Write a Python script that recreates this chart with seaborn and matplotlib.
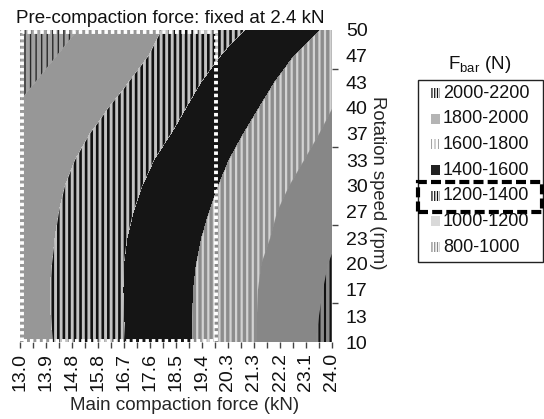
import numpy as np
import matplotlib
matplotlib.use("Agg")
import matplotlib.pyplot as plt
import matplotlib.patches as mpatches
import seaborn as sns

# ---------------- data ----------------
main_force = [13.0, 13.917, 14.833, 15.75, 16.667, 17.583, 18.5,
              19.417, 20.333, 21.25, 22.167, 23.083, 24.0]
main_force_labels = ["13.0", "13.9", "14.8", "15.8", "16.7", "17.6", "18.5",
                     "19.4", "20.3", "21.3", "22.2", "23.1", "24.0"]
speed = [10.0, 13.333, 16.667, 20.0, 23.333, 26.667, 30.0,
         33.333, 36.667, 40.0, 43.333, 46.667, 50.0]
speed_labels = ["10", "13", "17", "20", "23", "27", "30",
                "33", "37", "40", "43", "47", "50"]

# F_bar (N): one row per rotation speed (bottom -> top), one column per main force
fbar_rows = [
    [1108, 1181, 1253, 1325, 1397, 1474, 1550, 1628, 1709, 1791, 1878, 1966, 2054],
    [1115, 1186, 1258, 1329, 1401, 1475, 1551, 1628, 1709, 1791, 1874, 1958, 2042],
    [1118, 1189, 1260, 1332, 1403, 1476, 1549, 1625, 1706, 1788, 1868, 1948, 2028],
    [1111, 1183, 1256, 1328, 1401, 1471, 1542, 1616, 1697, 1778, 1857, 1934, 2012],
    [1103, 1175, 1247, 1319, 1392, 1461, 1531, 1601, 1676, 1753, 1829, 1906, 1982],
    [1095, 1165, 1235, 1305, 1376, 1444, 1512, 1579, 1654, 1731, 1809, 1887, 1964],
    [1083, 1151, 1218, 1286, 1353, 1421, 1488, 1556, 1626, 1700, 1774, 1849, 1923],
    [1061, 1127, 1192, 1258, 1324, 1390, 1459, 1528, 1597, 1667, 1736, 1805, 1875],
    [1055, 1108, 1161, 1218, 1283, 1348, 1414, 1486, 1558, 1629, 1697, 1766, 1834],
    [1013, 1067, 1121, 1175, 1237, 1305, 1374, 1444, 1515, 1586, 1658, 1729, 1799],
    [968, 1023, 1078, 1133, 1187, 1256, 1330, 1403, 1473, 1543, 1614, 1684, 1754],
    [923, 978, 1034, 1090, 1146, 1203, 1276, 1349, 1422, 1492, 1562, 1632, 1703],
    [866, 927, 988, 1049, 1111, 1172, 1234, 1296, 1359, 1424, 1493, 1563, 1632],
]

band_edges = [800, 1000, 1200, 1400, 1600, 1800, 2000, 2200]
band_labels = ["800-1000", "1000-1200", "1200-1400", "1400-1600",
               "1600-1800", "1800-2000", "2000-2200"]

# ---------------- styles ----------------
# chart fills: (face, hatch, hatch colour, hatch linewidth)
chart_style = [
    ("#a2a2a2", "|||", "#2a2a2a", 1.0),   # 800-1000
    ("#979797", None, None, None),        # 1000-1200
    ("#c2c2c2", "|||", "#111111", 1.9),   # 1200-1400
    ("#151515", None, None, None),        # 1400-1600
    ("#8c8c8c", "|||", "#d2d2d2", 1.6),   # 1600-1800
    ("#878787", None, None, None),        # 1800-2000
    ("#8a8a8a", "|||", "#111111", 1.5),   # 2000-2200
]
# legend markers: (face, hatch, hatch colour, hatch linewidth)
legend_style = [
    ("white", "||||||", "#8c8c8c", 0.9),  # 800-1000
    ("#d9d9d9", None, None, None),        # 1000-1200
    ("white", "||||||", "#111111", 0.9),  # 1200-1400
    ("#222222", None, None, None),        # 1400-1600
    ("white", "|||||", "#7a7a7a", 0.5),   # 1600-1800
    ("#b4b4b4", None, None, None),        # 1800-2000
    ("white", "||||||", "#111111", 0.9),  # 2000-2200
]

sns.set_theme(style="white")
plt.rcParams["font.family"] = ["Liberation Sans", "DejaVu Sans"]
plt.rcParams["mathtext.fontset"] = "custom"
plt.rcParams["mathtext.rm"] = "Liberation Sans"
plt.rcParams["mathtext.it"] = "Liberation Sans:italic"
plt.rcParams["text.color"] = "#111111"

W, H = 544, 419
fig = plt.figure(figsize=(W / 100, H / 100), dpi=100)
ax = fig.add_axes([20 / W, 77 / H, 312 / W, 312 / H])

X, Y = np.meshgrid(main_force, speed)
Z = np.array(fbar_rows, dtype=float)

# base solid fills
ax.contourf(X, Y, Z, levels=band_edges, colors=[s[0] for s in chart_style])
# hatched overlays
for k, (face, hatch, hc, hlw) in enumerate(chart_style):
    if hatch is None:
        continue
    with plt.rc_context({"hatch.color": hc, "hatch.linewidth": hlw}):
        cs = ax.contourf(X, Y, Z, levels=[band_edges[k], band_edges[k + 1]],
                         colors=[face], hatches=[hatch])
    cs.set_edgecolor(hc)
    cs.set_linewidth(0)
    if hasattr(cs, "set_hatch_linewidth"):
        cs.set_hatch_linewidth(hlw)

# white dotted frame (region of interest), drawn just inside the plot edge
ax.plot([13.07, 13.07, 19.9, 19.9, 13.07], [10.1, 49.8, 49.8, 10.1, 10.1], color="white",
        lw=2.8, linestyle=(0, (0.9, 0.75)), clip_on=False, zorder=5)

ax.set_xlim(13, 24)
ax.set_ylim(10, 50)
for sp in ax.spines.values():
    sp.set_visible(False)

ax.set_xticks(main_force)
ax.set_xticklabels(main_force_labels, rotation=90)
ax.set_xticks([(a + b) / 2 for a, b in zip(main_force[:-1], main_force[1:])], minor=True)
ax.tick_params(axis="x", which="both", bottom=True, direction="out", length=4,
               width=1, color="#444444", pad=4, labelsize=14, labelcolor="#111111")

ax.yaxis.tick_right()
ax.set_yticks(speed)
ax.set_yticklabels(speed_labels)
ax.set_yticks([10, 15, 20, 25, 30, 35, 40, 45, 50], minor=True)
ax.tick_params(axis="y", which="major", right=True, length=0, pad=10,
               labelsize=14, labelcolor="#111111")
ax.tick_params(axis="y", which="minor", right=True, direction="out", length=4,
               width=1, color="#444444")

ax.set_xlabel("Main compaction force (kN)", fontsize=13.5, va="center")
ax.xaxis.set_label_coords(0.526, -0.202)
ax.yaxis.set_label_position("right")
ax.set_ylabel("Rotation speed (rpm)", fontsize=13.3, rotation=270, va="center")
ax.yaxis.set_label_coords(1.147, 0.51)

ax.text(0.482, 1.037, "Pre-compaction force: fixed at 2.4 kN", fontsize=13.5,
        ha="center", va="center", transform=ax.transAxes)

# ---------------- legend (drawn manually to match the layout) ----------------
def fx(px):
    return px / W

def fy(py):
    return 1 - py / H

fig.text(fx(480), fy(64), r"F$_{\mathrm{bar}}$ (N)", fontsize=13.5, ha="center", va="center")
fig.patches.append(mpatches.Rectangle((fx(418), fy(262)), fx(543) - fx(418), fy(80) - fy(262),
                                      transform=fig.transFigure, fill=False,
                                      ec="#222222", lw=1.0))
for row, k in enumerate(range(len(band_labels) - 1, -1, -1)):
    yc = 93 + 25.7 * row
    face, hatch, hc, hlw = legend_style[k]
    kw = dict(transform=fig.transFigure, fc=face, lw=0)
    if hatch is not None:
        with plt.rc_context({"hatch.color": hc, "hatch.linewidth": hlw}):
            p = mpatches.Rectangle((fx(431), fy(yc + 5)), fx(440) - fx(431), fy(yc - 5) - fy(yc + 5),
                                   hatch=hatch, ec=hc, **kw)
        if hasattr(p, "set_hatch_linewidth"):
            p.set_hatch_linewidth(hlw)
    else:
        p = mpatches.Rectangle((fx(431), fy(yc + 5)), fx(440) - fx(431), fy(yc - 5) - fy(yc + 5),
                               ec="none", **kw)
    fig.patches.append(p)
    fig.text(fx(443), fy(yc), band_labels[k], fontsize=13, ha="left", va="center")

# dashed highlight around 1200-1400
fig.patches.append(mpatches.Rectangle((fx(418), fy(212)), fx(542) - fx(418), fy(182) - fy(212),
                                      transform=fig.transFigure, fill=False, ec="black",
                                      lw=3.0, linestyle=(0, (2.4, 1.0))))

fig.savefig("out.png", dpi=100)
